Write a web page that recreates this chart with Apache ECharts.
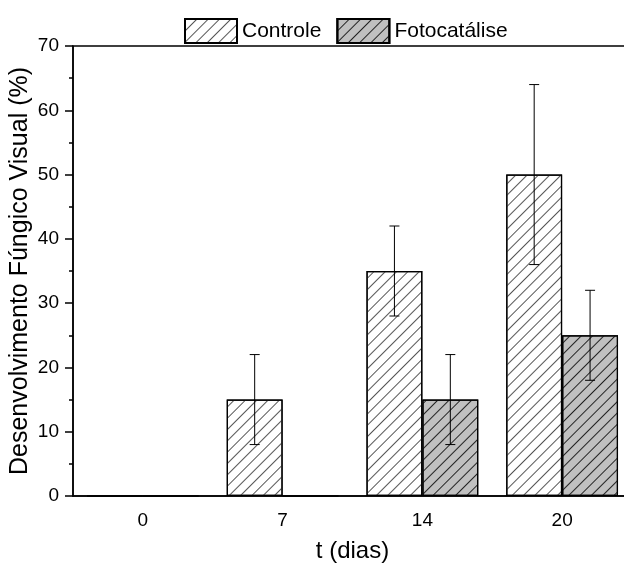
<!DOCTYPE html>
<html>
<head>
<meta charset="utf-8">
<script src="https://cdn.jsdelivr.net/npm/echarts@6/dist/echarts.min.js"></script>
<style>
  html, body { margin: 0; padding: 0; background: #fff; }
  #chart { width: 624px; height: 563px; }
</style>
</head>
<body>
<div id="chart"></div>
<script>
// dados
const dias = ['0', '7', '14', '20'];
const controle = [0, 15, 35, 50];
const controleErr = [0, 7, 7, 14];
const fotocatalise = [0, 0, 15, 25];
const fotocataliseErr = [0, 0, 7, 7];
const yTicks = { min: 0, max: 70, interval: 10 };

const fonte = 'Liberation Sans, Arial, sans-serif';

function hatch(cor) {
    return {
        symbol: 'rect',
        symbolSize: 1,
        dashArrayX: [1, 0],
        dashArrayY: [1, 7],
        rotation: -Math.PI / 4,
        color: cor
    };
}

function errorData(vals, errs) {
    const out = [];
    vals.forEach(function (v, i) {
        if (errs[i] > 0) out.push([i, v - errs[i], v + errs[i]]);
    });
    return out;
}

function errorSeries(name, vals, errs, shift) {
    return {
        name: name + ' err',
        type: 'custom',
        z: 5,
        data: errorData(vals, errs),
        renderItem: function (params, api) {
            const catW = api.size([1, 0])[0];
            const x = api.coord([api.value(0), 0])[0] + shift * catW;
            const lo = api.coord([api.value(0), api.value(1)])[1];
            const hi = api.coord([api.value(0), api.value(2)])[1];
            const cap = 5;
            const st = { stroke: '#000', lineWidth: 1 };
            return {
                type: 'group',
                children: [
                    { type: 'line', shape: { x1: x, y1: lo, x2: x, y2: hi }, style: st },
                    { type: 'line', shape: { x1: x - cap, y1: hi, x2: x + cap, y2: hi }, style: st },
                    { type: 'line', shape: { x1: x - cap, y1: lo, x2: x + cap, y2: lo }, style: st }
                ]
            };
        }
    };
}

const myChart = echarts.init(document.getElementById('chart'));
const option = {
    animation: false,
    textStyle: { fontFamily: fonte },
    grid: {
        left: 73,
        width: 559,
        top: 46,
        bottom: 67,
        outerBoundsMode: 'none',
        containLabel: false,
        show: true,
        borderColor: '#000',
        borderWidth: 1.5
    },
    legend: {
        data: ['Controle', 'Fotocatálise'],
        top: 13,
        left: 179,
        icon: 'rect',
        itemWidth: 52,
        itemHeight: 24,
        itemGap: 15,
        textStyle: { fontSize: 21, color: '#000', fontFamily: fonte }
    },
    xAxis: [
        {
            type: 'category',
            data: dias,
            position: 'bottom',
            name: 't (dias)',
            nameLocation: 'middle',
            nameGap: 43,
            nameTextStyle: { fontSize: 24, color: '#000', fontFamily: fonte },
            axisLine: { lineStyle: { color: '#000', width: 1.5 } },
            axisTick: { alignWithLabel: true, length: 7, lineStyle: { color: '#000', width: 1.5 } },
            axisLabel: { fontSize: 19, color: '#000', margin: 15, fontFamily: fonte },
            splitLine: { show: false }
        },
        {
            type: 'category',
            data: dias,
            position: 'bottom',
            axisLine: { show: false },
            axisTick: { length: 4, lineStyle: { color: '#000', width: 1.5 } },
            axisLabel: { show: false },
            splitLine: { show: false }
        }
    ],
    yAxis: {
        type: 'value',
        min: yTicks.min,
        max: yTicks.max,
        interval: yTicks.interval,
        name: 'Desenvolvimento Fúngico Visual (%)',
        nameLocation: 'middle',
        nameGap: 40,
        nameMoveOverlap: false,
        nameTextStyle: { fontSize: 25, color: '#000', fontFamily: fonte },
        axisLine: { show: true, lineStyle: { color: '#000', width: 1.5 } },
        axisTick: { show: true, length: 8, lineStyle: { color: '#000', width: 1.5 } },
        minorTick: { show: true, splitNumber: 2, length: 4, lineStyle: { color: '#000', width: 1.5 } },
        axisLabel: { fontSize: 19, color: '#000', margin: 14, fontFamily: fonte },
        splitLine: { show: false }
    },
    series: [
        {
            name: 'Controle',
            type: 'bar',
            data: controle,
            barWidth: '40%',
            barGap: '0%',
            itemStyle: { color: '#fff', borderColor: '#000', borderWidth: 1.2, decal: hatch('#555') }
        },
        {
            name: 'Fotocatálise',
            type: 'bar',
            data: fotocatalise,
            barWidth: '40%',
            barGap: '0%',
            itemStyle: { color: '#c0c0c0', borderColor: '#000', borderWidth: 1.2, decal: hatch('#222') }
        },
        errorSeries('Controle', controle, controleErr, -0.2),
        errorSeries('Fotocatálise', fotocatalise, fotocataliseErr, 0.2)
    ]
};
option && myChart.setOption(option);
</script>
</body>
</html>
